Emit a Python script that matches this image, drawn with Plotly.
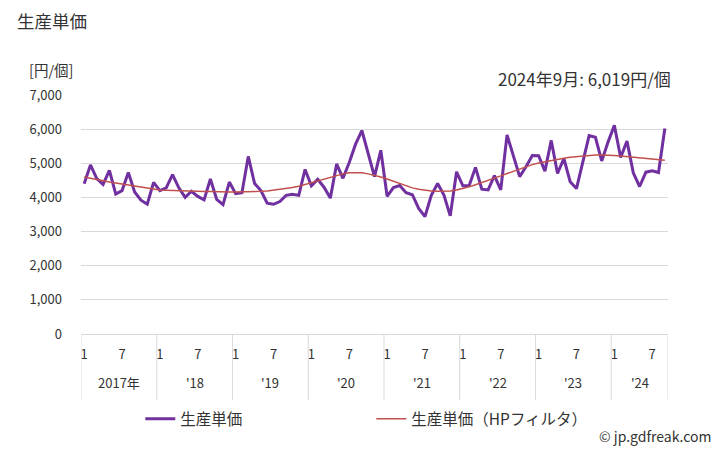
import plotly.graph_objects as go

# ---- data ----
years = [2017, 2018, 2019, 2020, 2021, 2022, 2023, 2024]
year_labels = ["2017年", "'18", "'19", "'20", "'21", "'22", "'23", "'24"]
months_per_year = [12, 12, 12, 12, 12, 12, 12, 9]

unit_price = [
    4400, 4950, 4550, 4380, 4790, 4100, 4200, 4730, 4160, 3920, 3800, 4440,   # 2017
    4200, 4280, 4670, 4280, 4000, 4180, 4030, 3930, 4540, 3940, 3790, 4450,   # 2018
    4110, 4140, 5200, 4410, 4200, 3830, 3800, 3880, 4060, 4090, 4060, 4820,   # 2019
    4340, 4530, 4300, 3980, 4980, 4560, 5020, 5560, 5960, 5300, 4610, 5380,   # 2020
    4030, 4290, 4350, 4140, 4080, 3680, 3440, 4060, 4410, 4070, 3460, 4750,   # 2021
    4340, 4350, 4880, 4240, 4220, 4640, 4220, 5830, 5200, 4610, 4900, 5230,   # 2022
    5220, 4770, 5670, 4700, 5140, 4460, 4260, 5050, 5810, 5760, 5070, 5620,   # 2023
    6110, 5170, 5650, 4720, 4320, 4740, 4780, 4730, 6019,                     # 2024
]

hp_trend = [
    4600, 4570, 4530, 4490, 4450, 4420, 4380, 4350, 4320, 4290, 4260, 4240,
    4220, 4210, 4200, 4190, 4180, 4180, 4170, 4170, 4170, 4160, 4160, 4160,
    4160, 4160, 4170, 4170, 4180, 4190, 4210, 4230, 4260, 4290, 4330, 4380,
    4430, 4490, 4550, 4600, 4650, 4690, 4720, 4730, 4720, 4690, 4650, 4600,
    4540, 4470, 4400, 4340, 4280, 4240, 4210, 4190, 4180, 4180, 4190, 4220,
    4260, 4310, 4370, 4430, 4490, 4560, 4630, 4700, 4770, 4840, 4900, 4960,
    5010, 5050, 5090, 5120, 5150, 5180, 5200, 5220, 5230, 5240, 5240, 5240,
    5230, 5210, 5190, 5170, 5150, 5130, 5110, 5100, 5090,
]

y_ticks = [0, 1000, 2000, 3000, 4000, 5000, 6000, 7000]
month_tick_labels = {1: "1", 7: "7"}
chart_title = "生産単価"

# ---- derived positions ----
month_of = []
for y, n in zip(years, months_per_year):
    month_of += [m for m in range(1, n + 1)]
xs = list(range(len(unit_price)))

tickvals = [i for i, m in enumerate(month_of) if m in month_tick_labels]
ticktext = [month_tick_labels[month_of[i]] for i in tickvals]

FONT = "Noto Sans CJK JP, Noto Sans, sans-serif"
TXT = "#333333"
GRID = "#d9d9d9"

fig = go.Figure()
fig.add_trace(go.Scatter(x=xs, y=unit_price, mode="lines", name="生産単価",
                         line=dict(color="#7030a0", width=3)))
fig.add_trace(go.Scatter(x=xs, y=hp_trend, mode="lines", name="生産単価（HPフィルタ）",
                         line=dict(color="#c0504d", width=1.5)))

# year separators & labels
shapes = []
annotations = []
start = 0
bounds = [0]
for n in months_per_year:
    start += n
    bounds.append(start)
for b in bounds:
    shapes.append(dict(type="line", xref="x", yref="paper", x0=b - 0.5, x1=b - 0.5,
                       y0=0, y1=-0.276, line=dict(color=GRID, width=1)))
for k, lab in enumerate(year_labels):
    xc = (bounds[k] + bounds[k + 1]) / 2 - 0.5
    annotations.append(dict(xref="x", yref="paper", x=xc, y=-0.205, text=lab,
                            showarrow=False, xanchor="center", yanchor="middle",
                            font=dict(family=FONT, size=13, color=TXT)))

last_label = f"{years[-1]}年{month_of[-1]}月: {unit_price[-1]:,}円/個"
annotations.append(dict(xref="paper", yref="paper", x=1.009, y=1.071, text=last_label,
                        showarrow=False, xanchor="right", yanchor="middle",
                        font=dict(family=FONT, size=17, color=TXT)))
annotations.append(dict(xref="paper", yref="paper", x=-0.092, y=1.105, text="[円/個]",
                        showarrow=False, xanchor="left", yanchor="middle",
                        font=dict(family=FONT, size=14.5, color=TXT)))
annotations.append(dict(xref="paper", yref="paper", x=1.078, y=-0.427, text="© jp.gdfreak.com",
                        showarrow=False, xanchor="right", yanchor="middle",
                        font=dict(family=FONT, size=14, color=TXT)))
annotations.append(dict(xref="paper", yref="paper", x=-0.1124, y=1.31, text=chart_title,
                        showarrow=False, xanchor="left", yanchor="middle",
                        font=dict(family=FONT, size=17.5, color=TXT)))

# page body has an 8px margin, so the figure is drawn 8px smaller and offset
fig.update_layout(
    width=720, height=442,
    margin=dict(l=73, r=60, t=87, b=116),
    paper_bgcolor="white", plot_bgcolor="white",
    font=dict(family=FONT, size=13, color=TXT),
    xaxis=dict(range=[-0.5, len(xs) - 0.5], tickvals=tickvals, ticktext=ticktext,
               showgrid=False, zeroline=False, showline=True, linecolor=GRID, linewidth=1,
               ticks="", ticklabelstandoff=8, tickfont=dict(size=13, color=TXT)),
    yaxis=dict(range=[0, 7000], tickvals=y_ticks, tickformat=",", showgrid=True,
               gridcolor=GRID, gridwidth=1, zeroline=False, showline=False, ticks="",
               ticklabelstandoff=18, tickfont=dict(size=13, color=TXT)),
    legend=dict(orientation="h", x=0.101, y=-0.356, xanchor="left", yanchor="middle",
                entrywidth=186, entrywidthmode="pixels",
                font=dict(family=FONT, size=15.5, color=TXT)),
    shapes=shapes, annotations=annotations,
)

fig.write_html("out.html")
